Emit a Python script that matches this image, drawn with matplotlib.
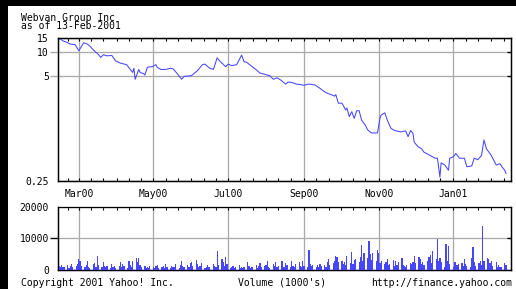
import datetime as dt
import pandas as pd
import matplotlib
matplotlib.use('Agg')
import matplotlib.pyplot as plt
import matplotlib.dates as mdates
from matplotlib.patches import Rectangle
from matplotlib.ticker import FixedLocator, NullLocator

# ---------------- data ----------------
title = "Webvan Group Inc"
subtitle = "as of 13-Feb-2001"
footer_left = "Copyright 2001 Yahoo! Inc."
footer_mid = "Volume (1000's)"
footer_right = "http://finance.yahoo.com"

start_date = dt.date(2000, 2, 14)
x_start = dt.datetime(2000, 2, 12, 14)
x_end = dt.datetime(2001, 2, 17, 2)

# price: day offset from start_date, closing price
price_day = [0, 1, 3, 6, 9, 13, 16, 20, 23, 25, 28, 31, 34, 36, 39, 43, 46, 50, 55, 58,
             60, 61, 62, 65, 66, 69, 70, 72, 76, 79, 80, 83, 87, 91, 93, 96, 100, 102, 108, 113,
             117, 119, 123, 126, 129, 131, 133, 136, 138, 141, 145, 149, 151, 153, 156, 160, 164, 170, 172, 175,
             178, 181, 185, 187, 190, 194, 197, 200, 203, 205, 209, 213, 216, 219, 223, 225, 226, 228, 231, 234,
             235, 237, 239, 241, 243, 245, 247, 250, 252, 255, 260, 262, 263, 266, 268, 271, 274, 279, 283, 285,
             287, 289, 290, 293, 296, 298, 303, 307, 309, 311, 312, 315, 318, 319, 322, 324, 327, 331, 333, 337,
             339, 342, 345, 347, 349, 353, 357, 360, 362, 364, 365]
price = [14.4, 14.7, 13.8, 13.3, 12.6, 12.4, 10.4, 13.1, 12.6, 11.9, 10.6, 9.7, 8.6, 9.3, 9.0, 9.1, 7.8, 7.3, 7.0, 6.1,
         5.6, 6.3, 4.6, 6.1, 5.6, 5.4, 5.2, 6.5, 6.6, 7.0, 6.5, 6.1, 6.1, 6.3, 6.2, 5.5, 4.6, 5.0, 5.1, 5.9,
         7.0, 7.1, 6.3, 6.1, 8.5, 7.8, 7.3, 6.6, 7.1, 6.8, 7.0, 9.2, 7.6, 7.5, 6.9, 6.2, 5.5, 5.2, 5.1, 4.6,
         4.8, 4.5, 4.0, 4.25, 4.2, 4.0, 3.96, 3.87, 4.0, 4.0, 3.9, 3.55, 3.28, 3.08, 2.93, 2.84, 2.96, 2.32, 2.32, 1.91,
         2.02, 1.58, 1.82, 1.5, 1.87, 1.87, 1.43, 1.24, 1.08, 0.99, 0.99, 1.5, 1.65, 1.76, 1.43, 1.13, 1.06, 1.02, 1.05, 0.89,
         1.06, 0.98, 0.76, 0.67, 0.63, 0.57, 0.52, 0.48, 0.48, 0.28, 0.42, 0.395, 0.34, 0.48, 0.50, 0.55, 0.48, 0.48, 0.376, 0.385,
         0.48, 0.46, 0.52, 0.81, 0.63, 0.52, 0.395, 0.41, 0.37, 0.34, 0.31]

price_ticks = [0.25, 5, 10, 15]
price_tick_labels = ['0.25', '5', '10', '15']
vol_ticks = [0, 10000, 20000]
vol_tick_labels = ['0', '10000', '20000']

# daily volume (thousands of shares) per month, business days in order
vol_2000_02 = [1200, 900, 1500, 800, 1100, 1600, 700, 1300, 2000, 900, 1400, 1800]
vol_2000_03 = [3500, 3000, 1200, 900, 1500, 2800, 1100, 700, 1800, 2200, 1000, 4500, 1500, 800, 2600, 1200,
               900, 1400, 700, 1900, 1000, 1300, 600]
vol_2000_04 = [1400, 2600, 900, 1800, 1200, 700, 2900, 1600, 1100, 3000, 3800, 2400, 3900, 1500, 800, 1200,
               600, 1000, 700, 1300]
vol_2000_05 = [800, 600, 1200, 1500, 500, 900, 1400, 700, 1800, 1000, 600, 1300, 800, 1100, 2000, 700,
               1500, 2900, 1200, 800, 1600, 1000, 2200]
vol_2000_06 = [2500, 1200, 3200, 1800, 900, 1400, 2200, 700, 1100, 1600, 1000, 800, 1900, 1300, 900, 6100,
               1500, 3500, 2600, 1200, 4000, 1800]
vol_2000_07 = [600, 900, 1200, 500, 800, 1500, 700, 1100, 600, 900, 2600, 1300, 700, 1000, 800, 1700,
               600, 1200, 2300, 900, 1400]
vol_2000_08 = [1500, 2800, 1000, 700, 1900, 1200, 2600, 900, 1400, 3000, 1100, 800, 2200, 1600, 1000, 2700,
               1300, 900, 1800, 2400, 1200, 1000, 2900]
vol_2000_09 = [1400, 900, 6400, 1900, 1200, 1600, 800, 1500, 1100, 2000, 1300, 1700, 1000, 2400, 3500, 1500,
               2200, 2900, 4500, 4000, 2600]
vol_2000_10 = [3000, 1800, 2600, 1500, 4300, 2200, 5600, 2000, 3200, 3500, 2500, 4200, 7900, 3000, 5500, 3800,
               9300, 5000, 3200, 5500, 2700, 6400]
vol_2000_11 = [5500, 2200, 2900, 1800, 2500, 3500, 1500, 2000, 3200, 1300, 2800, 1700, 2400, 3700, 1600, 1200,
               900, 1500, 2100, 1800, 2600, 4300]
vol_2000_12 = [2300, 4000, 3500, 1800, 2600, 1500, 3000, 4200, 4800, 2200, 6100, 3500, 9800, 2700, 3900, 2400,
               800, 8200, 3000, 7700, 1900]
vol_2001_01 = [800, 2400, 2600, 1500, 1900, 2200, 1200, 3500, 2000, 1400, 800, 3700, 7400, 2400, 1300, 2200,
               2800, 1600, 14000, 3000, 3700, 3400, 2100]
vol_2001_02 = [2800, 1200, 2500, 900, 1600, 1100, 800, 2300, 1500]

vol_months = {
    '2000-02': vol_2000_02, '2000-03': vol_2000_03, '2000-04': vol_2000_04,
    '2000-05': vol_2000_05, '2000-06': vol_2000_06, '2000-07': vol_2000_07,
    '2000-08': vol_2000_08, '2000-09': vol_2000_09, '2000-10': vol_2000_10,
    '2000-11': vol_2000_11, '2000-12': vol_2000_12, '2001-01': vol_2001_01,
    '2001-02': vol_2001_02,
}

# ---------------- build series ----------------
price_dates = [dt.datetime.combine(start_date, dt.time()) + dt.timedelta(days=d) for d in price_day]
first = pd.Timestamp('2000-02-14')
last = pd.Timestamp('2001-02-13')
vol_dates, vol_vals = [], []
for key, vals in vol_months.items():
    y, m = map(int, key.split('-'))
    s = pd.Timestamp(y, m, 1)
    e = s + pd.offsets.MonthEnd(0)
    s = max(s, first)
    e = min(e, last)
    for day, v in zip(pd.bdate_range(s, e), vals):
        vol_dates.append(day.to_pydatetime())
        vol_vals.append(v)

# ---------------- figure ----------------
plt.rcParams['font.family'] = ['DejaVu Sans Mono']
plt.rcParams['font.size'] = 7

W, H = 516, 289
fig = plt.figure(figsize=(W / 100, H / 100), dpi=100)
fig.patch.set_facecolor('white')


def box(l, t, r, b):
    return [l / W, 1 - b / H, (r - l) / W, (b - t) / H]


# black frame strips (top and left)
fig.patches.append(Rectangle((0, 1 - 6 / H), 1, 6 / H, transform=fig.transFigure,
                             facecolor='black', edgecolor='none', zorder=0))
fig.patches.append(Rectangle((0, 0), 7.5 / W, 1, transform=fig.transFigure,
                             facecolor='black', edgecolor='none', zorder=0))

blue = '#4646ff'
grid_c = '#aaaaaa'
pt = 0.72  # points per pixel

axp = fig.add_axes(box(57.5, 38, 511, 181))
axp_r = axp.twinx()
axv = fig.add_axes(box(57.5, 206.7, 511, 270))
axv_r = axv.twinx()

# price panel
axp.plot(price_dates, price, color=blue, lw=0.75, zorder=3)
axp.set_yscale('log')
axp.set_ylim(0.25, 15)
axp.set_xlim(x_start, x_end)
axp.yaxis.set_major_locator(FixedLocator(price_ticks))
axp.yaxis.set_minor_locator(NullLocator())
axp.set_yticklabels(price_tick_labels)
axp.set_axisbelow(True)
axp.grid(True, which='major', color=grid_c, lw=1.0 * pt * 1.3)

for a in (axp, axv):
    a.xaxis.set_major_locator(mdates.MonthLocator(bymonth=[1, 3, 5, 7, 9, 11]))
    a.xaxis.set_minor_locator(mdates.DayLocator(bymonthday=[1, 11, 21]))
    a.xaxis.set_major_formatter(mdates.DateFormatter('%b%y'))
    for s in a.spines.values():
        s.set_linewidth(1.0)

axp.tick_params(axis='x', which='both', direction='in', top=True, bottom=True,
                length=3 * pt, width=0.8, color='black')
axp.tick_params(axis='x', which='major', pad=5.5, labelsize=7)
axp.tick_params(axis='y', which='major', direction='out', length=8 * pt, width=1.0,
                color=grid_c, pad=0.3, labelsize=7)
for i in (0, 3):
    axp.yaxis.get_major_ticks()[i].tick1line.set_visible(False)

axp_r.set_yscale('log')
axp_r.set_ylim(0.25, 15)
axp_r.yaxis.set_major_locator(FixedLocator([5, 10]))
axp_r.yaxis.set_minor_locator(NullLocator())
axp_r.tick_params(axis='y', which='major', direction='in', length=4 * pt, width=1.0,
                  color='black', labelright=False)

# volume panel
axv.bar(vol_dates, vol_vals, width=1.0, color=blue, linewidth=0, zorder=3)
axv.set_ylim(0, 20000)
axv.set_xlim(x_start, x_end)
axv.yaxis.set_major_locator(FixedLocator(vol_ticks))
axv.set_yticklabels(vol_tick_labels)
axv.set_axisbelow(True)
axv.grid(True, which='major', color=grid_c, lw=1.0 * pt * 1.3)
axv.spines['top'].set_color('#999999')
axv.tick_params(axis='x', which='both', direction='in', top=True, bottom=False,
                labelbottom=False, length=3 * pt, width=0.8, color='black')
axv.tick_params(axis='y', which='major', direction='out', length=8 * pt, width=1.0,
                color='black', pad=0.3, labelsize=7)
for i in (0, 2):
    axv.yaxis.get_major_ticks()[i].tick1line.set_visible(False)

axv_r.set_ylim(0, 20000)
axv_r.yaxis.set_major_locator(FixedLocator([10000]))
axv_r.tick_params(axis='y', which='major', direction='in', length=4 * pt, width=1.0,
                  color='black', labelright=False)

# texts
fig.text(20.7 / W, 1 - 20.7 / H, title, va='baseline', ha='left', fontsize=7)
fig.text(20.7 / W, 1 - 29.3 / H, subtitle, va='baseline', ha='left', fontsize=7)
fig.text(20.7 / W, 1 - 285.5 / H, footer_left, va='baseline', ha='left', fontsize=7)
fig.text(238.3 / W, 1 - 285.5 / H, footer_mid, va='baseline', ha='left', fontsize=7)
fig.text(370.7 / W, 1 - 285.5 / H, footer_right, va='baseline', ha='left', fontsize=7)

fig.savefig('out.png', dpi=100, facecolor='white')
